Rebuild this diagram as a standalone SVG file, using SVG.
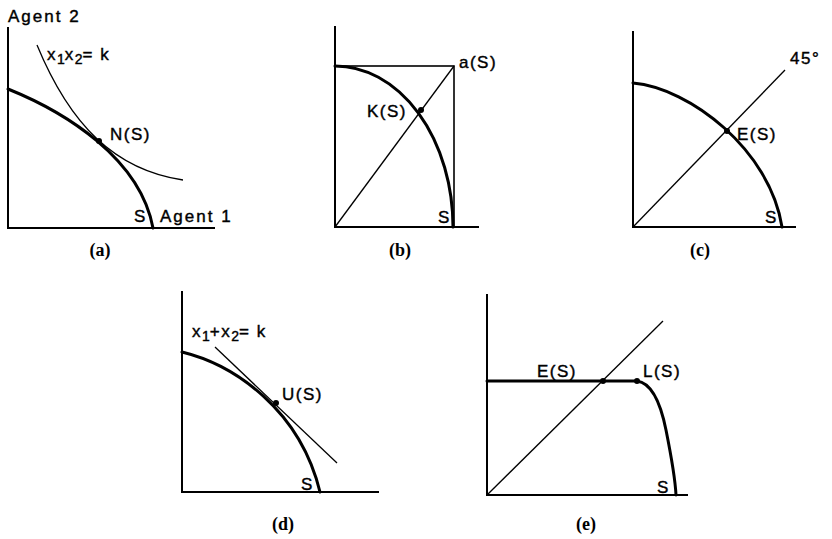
<svg xmlns="http://www.w3.org/2000/svg" width="832" height="539" viewBox="0 0 832 539">
<style>
.ax{stroke:#000;stroke-width:2;fill:none;stroke-linecap:square}
.thin{stroke:#000;stroke-width:1.3;fill:none}
.thick{stroke:#000;stroke-width:3;fill:none;stroke-linecap:round}
.dot{fill:#000}
.t{font-family:"Liberation Sans",Arial,sans-serif;font-size:17px;letter-spacing:1.5px;fill:#000;stroke:#000;stroke-width:0.4}
.s{font-size:14px;letter-spacing:0}
.cap{font-family:"Liberation Serif","Times New Roman",serif;font-weight:bold;font-size:18px;fill:#000;text-anchor:middle}
</style>
<rect width="832" height="539" fill="#fff"/>

<g id="panel-a">
  <path class="ax" d="M8 28 V228 H214"/>
  <path class="thick" d="M8 89 C65 112 140 158 153 228"/>
  <path class="thin" d="M37 45 C70 125 115 170 183 180"/>
  <circle class="dot" cx="99" cy="141" r="3"/>
  <text class="t" x="8" y="22" style="letter-spacing:2px">Agent 2</text>
  <text class="t" x="47" y="60">x<tspan class="s" dy="4">1</tspan><tspan dy="-4">x</tspan><tspan class="s" dy="4">2</tspan><tspan dy="-4">= k</tspan></text>
  <text class="t" x="110" y="140">N(S)</text>
  <text class="t" x="134" y="222">S</text>
  <text class="t" x="160" y="222" style="letter-spacing:2px">Agent 1</text>
  <text class="cap" x="100" y="256">(a)</text>
</g>

<g id="panel-b">
  <path class="ax" d="M335 27 V227 H478"/>
  <rect class="thin" x="335" y="66" width="119" height="161" style="stroke-width:1.6"/>
  <line class="thin" x1="335" y1="227" x2="454" y2="66"/>
  <path class="thick" d="M335 66 A118 161 0 0 1 453 227"/>
  <circle class="dot" cx="421" cy="110" r="3"/>
  <text class="t" x="459" y="68">a(S)</text>
  <text class="t" x="367" y="117">K(S)</text>
  <text class="t" x="438" y="223">S</text>
  <text class="cap" x="400" y="256">(b)</text>
</g>

<g id="panel-c">
  <path class="ax" d="M633 32 V227 H795"/>
  <line class="thin" x1="633" y1="227" x2="785" y2="70"/>
  <path class="thick" d="M633 83 C690 88 770 150 782 227"/>
  <circle class="dot" cx="727" cy="131" r="3"/>
  <text class="t" x="790" y="64">45°</text>
  <text class="t" x="737" y="140">E(S)</text>
  <text class="t" x="765" y="223">S</text>
  <text class="cap" x="700" y="256">(c)</text>
</g>

<g id="panel-d">
  <path class="ax" d="M182 292 V492 H378"/>
  <path class="thick" d="M182 352 C235 365 300 410 320 492"/>
  <line class="thin" x1="215" y1="347" x2="337" y2="463"/>
  <circle class="dot" cx="276" cy="403" r="3"/>
  <text class="t" x="192" y="337">x<tspan class="s" dy="4">1</tspan><tspan dy="-4">+x</tspan><tspan class="s" dy="4">2</tspan><tspan dy="-4">= k</tspan></text>
  <text class="t" x="282" y="400">U(S)</text>
  <text class="t" x="301" y="490">S</text>
  <text class="cap" x="283" y="530">(d)</text>
</g>

<g id="panel-e">
  <path class="ax" d="M487 295 V495 H687"/>
  <line class="thin" x1="487" y1="495" x2="663" y2="321"/>
  <path class="thick" d="M487 381 H637 C652 383 661 405 666 430 C671 455 675 475 676 495"/>
  <circle class="dot" cx="603" cy="381" r="3"/>
  <circle class="dot" cx="637" cy="381" r="3"/>
  <text class="t" x="537" y="377">E(S)</text>
  <text class="t" x="643" y="377">L(S)</text>
  <text class="t" x="657" y="493">S</text>
  <text class="cap" x="586" y="530">(e)</text>
</g>
</svg>
